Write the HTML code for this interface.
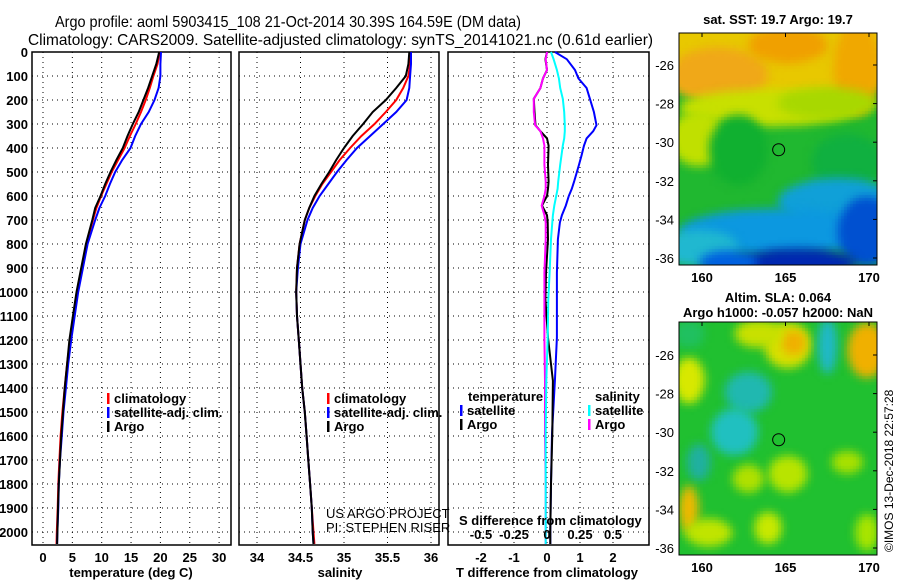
<!DOCTYPE html>
<html><head><meta charset="utf-8">
<style>
body{margin:0;background:#fff;}
svg text{font-family:"Liberation Sans",sans-serif;}
.b{font-weight:bold;font-size:13px;}
</style></head>
<body>
<svg id="c" width="900" height="580" xmlns="http://www.w3.org/2000/svg">
<text x="55" y="27" font-size="16" textLength="466" lengthAdjust="spacingAndGlyphs">Argo profile: aoml 5903415_108 21-Oct-2014 30.39S 164.59E (DM data)</text>
<text x="28" y="45" font-size="16" textLength="625" lengthAdjust="spacingAndGlyphs">Climatology: CARS2009. Satellite-adjusted climatology: synTS_20141021.nc (0.61d earlier)</text>
<g id="p1"></g>
<g id="p2"></g>
<g id="p3"></g>
<g id="maps"></g>
<text transform="translate(893,552) rotate(-90)" font-size="12">©IMOS 13-Dec-2018 22:57:28</text>
</svg>
<script>
// ---- data ----
const depthT = [0,50,100,150,200,250,300,350,400,450,500,550,600,650,700,800,900,1000,1100,1200,1300,1400,1500,1600,1700,1800,1900,2000,2050];
const tempArgo = [19.8,19.3,18.6,17.9,17.1,16.3,15.3,14.4,13.6,12.5,11.5,10.6,9.8,8.9,8.4,7.3,6.5,5.7,5.1,4.5,4.1,3.7,3.4,3.1,2.9,2.7,2.55,2.45,2.4];
const tempClim = [19.9,19.5,18.8,18.2,17.5,16.7,15.8,14.8,13.9,12.8,11.7,10.8,9.9,9.1,8.5,7.4,6.6,5.8,5.2,4.6,4.1,3.7,3.3,3.0,2.8,2.6,2.5,2.35,2.3];
const tempSat = [20.1,20.0,20.0,19.7,19.0,18.0,16.7,15.7,14.9,13.5,12.3,11.4,10.6,9.6,8.9,7.6,6.8,6.0,5.4,4.8,4.3,3.9,3.5,3.2,2.9,2.7,2.6,2.45,2.4];
const salArgo = [35.75,35.74,35.71,35.6,35.48,35.33,35.22,35.1,35.0,34.91,34.83,34.74,34.66,34.6,34.55,34.49,34.46,34.45,34.46,34.48,34.5,34.52,34.55,34.57,34.59,34.61,34.63,34.64,34.65];
const salClim = [35.77,35.76,35.74,35.68,35.6,35.48,35.35,35.2,35.07,34.95,34.85,34.75,34.67,34.6,34.55,34.49,34.46,34.45,34.46,34.48,34.5,34.52,34.55,34.57,34.59,34.61,34.63,34.65,34.66];
const salSat = [35.77,35.77,35.76,35.75,35.72,35.6,35.45,35.3,35.15,35.03,34.92,34.82,34.72,34.64,34.58,34.5,34.47,34.45,34.46,34.48,34.5,34.52,34.55,34.57,34.59,34.61,34.63,34.64,34.65];
const depthD = [0,30,75,110,150,195,250,305,330,360,390,430,470,540,570,600,640,680,710,780,920,1030,1190,1370,1590,1800,1990,2050];
const dTSat = [0.24,0.6,0.85,0.95,1.2,1.3,1.42,1.5,1.4,1.2,1.12,1.05,0.97,0.82,0.75,0.66,0.57,0.45,0.39,0.33,0.3,0.3,0.3,0.24,0.15,0.12,0.1,0.1];
const dTArgo = [0,-0.05,0,-0.12,-0.2,-0.4,-0.38,-0.35,-0.2,0,0.05,0.04,0.03,0.05,0.03,0,-0.15,0,0.02,0.03,-0.03,-0.05,0.03,0.18,0.16,0.12,0.1,0.1];
const dSArgo = [0,-0.01,0,-0.03,-0.05,-0.1,-0.1,-0.09,-0.05,-0.03,-0.02,-0.02,-0.02,-0.01,-0.01,-0.02,-0.04,-0.02,-0.01,-0.01,-0.02,-0.02,-0.02,-0.015,-0.015,-0.01,-0.01,-0.01];
const dSSat = [0.03,0.05,0.075,0.09,0.1,0.12,0.13,0.135,0.135,0.13,0.12,0.11,0.1,0.085,0.08,0.07,0.055,0.045,0.04,0.03,0.02,0.01,0.005,-0.005,-0.01,-0.01,-0.01,-0.01];
const depthTicks = [0,100,200,300,400,500,600,700,800,900,1000,1100,1200,1300,1400,1500,1600,1700,1800,1900,2000];
const tTicks = [0,5,10,15,20,25,30];
const sTicks = [34,34.5,35,35.5,36];
const dTTicks = [-2,-1,0,1,2];
const dSTicks = [-0.5,-0.25,0,0.25,0.5];
const dSTickLabels = ['-0.5','-0.25','0','0.25','0.5'];

const NS="http://www.w3.org/2000/svg";
function el(parent,tag,attrs){const e=document.createElementNS(NS,tag);for(const k in attrs)e.setAttribute(k,attrs[k]);parent.appendChild(e);return e;}
const Y0=52, YB=545, DMAX=(YB-Y0)/0.24;
const yS = d => Y0 + d*(YB-Y0)/DMAX;
function lin(d0,d1,r0,r1){return v=>r0+(v-d0)*(r1-r0)/(d1-d0);}

function frame(g,x0,x1,xs,ticks,labels,showY){
  depthTicks.forEach(d=>{
    const l=el(g,'line',{x1:x0,x2:x1,y1:yS(d),y2:yS(d),stroke:'#000','stroke-width':1,'stroke-dasharray':'1,4'});
    
    
    if(showY){const t=el(g,'text',{x:28,y:yS(d)+5,'text-anchor':'end',class:'b'});t.textContent=d;
      
      }
  });
  ticks.forEach((v,i)=>{
    const l=el(g,'line',{x1:xs(v),x2:xs(v),y1:Y0,y2:YB,stroke:'#000','stroke-width':1,'stroke-dasharray':'1,4'});
    
    
    if(labels){const t=el(g,'text',{x:xs(v),y:562,'text-anchor':'middle',class:'b'});t.textContent=labels[i];
      
      }
  });
  const r=el(g,'rect',{x:x0,y:Y0,width:x1-x0,height:YB-Y0,fill:'none',stroke:'#000','stroke-width':1.5});
  
  
}
function series(g,xs,vals,depths,color,name,w){
  const pts=vals.map((v,i)=>xs(v).toFixed(1)+','+yS(depths[i]).toFixed(1)).join(' ');
  const p=el(g,'polyline',{points:pts,fill:'none',stroke:color,'stroke-width':w||2});
  
  
}
function legend(g,x,y,color,label,name){
  const r=el(g,'rect',{x:x,y:y-10,width:2.5,height:11,fill:color});
  
  
  const t=el(g,'text',{x:x+7,y:y,class:'b'});t.textContent=label;
  
  
}
function lab(g,x,y,txt,name,anchor,extra){
  const t=el(g,'text',Object.assign({x:x,y:y,class:'b','text-anchor':anchor||'start'},extra||{}));t.textContent=txt;
  
  
  return t;
}

// Panel 1
const p1=document.getElementById('p1');
const x1s=lin(0,5,43,72.35);
frame(p1,32,231,x1s,tTicks,tTicks.map(String),true);
series(p1,x1s,tempClim,depthT,'#f00','climatology-temp-line');
series(p1,x1s,tempSat,depthT,'#00f','satellite-temp-line');
series(p1,x1s,tempArgo,depthT,'#000','argo-temp-line');
legend(p1,107,403,'#f00','climatology','legend-climatology');
legend(p1,107,417,'#00f','satellite-adj. clim.','legend-satellite');
legend(p1,107,431,'#000','Argo','legend-argo');
lab(p1,131,577,'temperature (deg C)','x-axis-title-temperature','middle');

// Panel 2
const p2=document.getElementById('p2');
const x2s=lin(34,35,257,344);
frame(p2,239,439,x2s,sTicks,sTicks.map(String),false);
series(p2,x2s,salClim,depthT,'#f00','climatology-salinity-line');
series(p2,x2s,salSat,depthT,'#00f','satellite-salinity-line');
series(p2,x2s,salArgo,depthT,'#000','argo-salinity-line');
legend(p2,327,403,'#f00','climatology','legend-climatology-s');
legend(p2,327,417,'#00f','satellite-adj. clim.','legend-satellite-s');
legend(p2,327,431,'#000','Argo','legend-argo-s');
(function(){const a=el(p2,'text',{x:326,y:518,'font-size':13});a.textContent='US ARGO PROJECT';

const b=el(p2,'text',{x:326,y:532,'font-size':13});b.textContent='PI: STEPHEN RISER';
})();
lab(p2,340,577,'salinity','x-axis-title-salinity','middle');

// Panel 3
const p3=document.getElementById('p3');
const xTs=lin(0,1,547,580);
const xSs=lin(0,0.25,547,580);
frame(p3,448,649,xTs,dTTicks,dTTicks.map(String),false);
series(p3,xTs,dTSat,depthD,'#00f','satellite-t-diff-line');
series(p3,xTs,dTArgo,depthD,'#000','argo-t-diff-line');
series(p3,xSs,dSArgo,depthD,'#f0f','argo-s-diff-line');
series(p3,xSs,dSSat,depthD,'#0ff','satellite-s-diff-line');
lab(p3,468,401,'temperature','legend-temperature-heading');
legend(p3,460,415,'#00f','satellite','legend-t-satellite');
legend(p3,460,429,'#000','Argo','legend-t-argo');
lab(p3,595,401,'salinity','legend-salinity-heading');
legend(p3,588,415,'#0ff','satellite','legend-s-satellite');
legend(p3,588,429,'#f0f','Argo','legend-s-argo');
lab(p3,459,525,'S difference from climatology','s-axis-title');
dSTicks.forEach((v,i)=>lab(p3,xSs(v),539,dSTickLabels[i],'s-tick-label','middle'));
lab(p3,547,577,'T difference from climatology','x-axis-title-tdiff','middle');

// Maps
const maps=document.getElementById('maps');
const lonS=lin(160,170,702,869);
const latTicks=[-26,-28,-30,-32,-34,-36];
const lonTicks=[160,165,170];
function mapAxes(top,bot,lat26y,name){
  const latS=lin(-26,-36,lat26y,lat26y+193);
  const fo=el(maps,'foreignObject',{x:679,y:top,width:198,height:bot-top});
  
  
  const cv=document.createElement('canvas');cv.width=198;cv.height=bot-top;
  cv.style.display='block';
  fo.appendChild(cv);
  const r=el(maps,'rect',{x:679,y:top,width:198,height:bot-top,fill:'none',stroke:'#000','stroke-width':1});
  
  
  latTicks.forEach(v=>{
    const t=el(maps,'text',{x:674,y:latS(v)+5,'font-size':13,'text-anchor':'end'});t.textContent=v;
    
    
    el(maps,'line',{x1:873,x2:877,y1:latS(v),y2:latS(v),stroke:'#000'});
  });
  lonTicks.forEach(v=>{
    lab(maps,lonS(v),bot+17,String(v),'lon-tick-label','middle');
    el(maps,'line',{x1:lonS(v),x2:lonS(v),y1:top,y2:top+4,stroke:'#000'});
  });
  const c=el(maps,'circle',{cx:lonS(164.59),cy:latS(-30.39),r:6,fill:'none',stroke:'#000','stroke-width':1});
  
  
  return cv;
}
function paint(cv,base,blobs,cell){
  const w=Math.ceil(cv.width/cell),h=Math.ceil(cv.height/cell);
  const s=document.createElement('canvas');s.width=w;s.height=h;
  const x=s.getContext('2d');
  x.fillStyle=base;x.fillRect(0,0,w,h);
  x.filter='blur(1.5px)';
  blobs.forEach(b=>{x.fillStyle=b[4];x.beginPath();x.ellipse(b[0]*w,b[1]*h,b[2]*w,b[3]*h,0,0,Math.PI*2);x.fill();});
  const ctx=cv.getContext('2d');ctx.imageSmoothingEnabled=false;ctx.drawImage(s,0,0,w*cell,h*cell);
}
lab(maps,778,24,'sat. SST: 19.7 Argo: 19.7','sst-map-title','middle');
const cv1=mapAxes(33,265,65,'sst-map');
paint(cv1,'#20b830',[
 [0.5,0.0,0.8,0.3,'#e8c800'],[0.2,0.18,0.25,0.12,'#f0a818'],[0.55,0.05,0.2,0.08,'#f0a000'],[0.9,0.15,0.12,0.2,'#f0a800'],
 [0.45,0.32,0.45,0.08,'#c8e000'],[0.1,0.45,0.15,0.12,'#c0e000'],[0.75,0.3,0.25,0.07,'#a8d800'],
 [0.3,0.5,0.15,0.15,'#10b030'],[0.85,0.55,0.18,0.12,'#10b040'],
 [0.8,0.72,0.3,0.1,'#10a0d8'],[0.5,0.85,0.5,0.1,'#0c98e0'],[0.1,0.92,0.2,0.08,'#20b8d0'],
 [0.95,0.85,0.15,0.15,'#0050d0'],[0.6,0.98,0.3,0.06,'#0028b0'],[0.25,0.98,0.15,0.05,'#0060e0']
],3);
lab(maps,778,302,'Altim. SLA: 0.064','sla-map-title','middle');
lab(maps,778,317,'Argo h1000: -0.057 h2000: NaN','argo-height-title','middle');
const cv2=mapAxes(322,555,355,'sla-map');
paint(cv2,'#20c030',[
 [0.55,0.1,0.12,0.1,'#d8e000'],[0.58,0.09,0.06,0.05,'#f0b000'],[0.95,0.12,0.1,0.12,'#f0b000'],[0.05,0.25,0.08,0.1,'#d8e800'],
 [0.4,0.05,0.12,0.06,'#c8e000'],[0.75,0.1,0.05,0.12,'#20b8c8'],[0.35,0.3,0.12,0.09,'#20b8b0'],
 [0.28,0.47,0.12,0.1,'#20c0c0'],[0.1,0.6,0.06,0.08,'#20b0a0'],[0.05,0.8,0.05,0.1,'#f0b800'],
 [0.55,0.65,0.1,0.08,'#b8e400'],[0.35,0.67,0.08,0.06,'#b0e000'],[0.45,0.88,0.07,0.07,'#c8e800'],
 [0.15,0.9,0.12,0.06,'#c0e400'],[0.85,0.6,0.08,0.05,'#a8e000'],[0.95,0.9,0.06,0.08,'#a8e400'],[0.05,0.05,0.08,0.06,'#20c060']
],3);
</script>
</body></html>
